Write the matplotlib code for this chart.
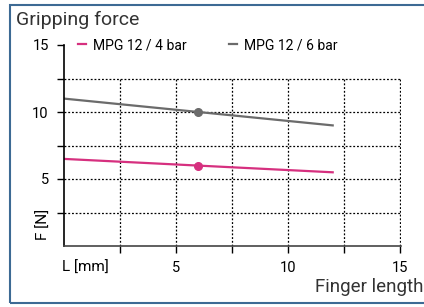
import matplotlib.pyplot as plt
from matplotlib.patches import Rectangle

plt.rcParams['font.family'] = ['Roboto', 'DejaVu Sans']

finger_length = [0, 6, 12]
force_4bar = [6.5, 6.0, 5.5]
force_6bar = [11.0, 10.0, 9.0]
labels = ['MPG 12 / 4 bar', 'MPG 12 / 6 bar']
pink = '#d6307f'
grey = '#6b6b6b'

fig = plt.figure(figsize=(4.24, 3.07), dpi=100)
ax = fig.add_axes([64 / 424, 1 - 246 / 307, 337 / 424, 201 / 307])

# dotted grid, stops below 15 on y
grid_pos = [2.5, 5, 7.5, 10, 12.5]
ax.hlines(grid_pos, 0, 15, colors='black', linestyles=(0, (1.5, 1.5)), linewidth=0.9)
ax.vlines(grid_pos + [15], 0, 12.5, colors='black', linestyles=(0, (1.5, 1.5)), linewidth=0.9)

ax.plot(finger_length, force_4bar, color=pink, lw=1.6, label=labels[0])
ax.plot(finger_length, force_6bar, color=grey, lw=1.6, label=labels[1])
ax.plot([finger_length[1]], [force_4bar[1]], 'o', color=pink, ms=5.5)
ax.plot([finger_length[1]], [force_6bar[1]], 'o', color=grey, ms=5.5)

ax.set_xlim(0, 15.05)
ax.set_ylim(0, 15)
ticks = [0, 2.5, 5, 7.5, 10, 12.5, 15]
tick_labels = ['', '', '5', '', '10', '', '15']
ax.set_xticks(ticks[1:])
ax.set_xticklabels(tick_labels[1:])
ax.set_yticks(ticks[1:])
ax.set_yticklabels(tick_labels[1:])
ax.tick_params(length=5, width=1, labelsize=10.5, color='black', pad=6)
for s in ['top', 'right']:
    ax.spines[s].set_visible(False)
ax.spines['left'].set_color('black')
ax.spines['bottom'].set_color('#444444')
ax.spines['left'].set_linewidth(1.2)
ax.spines['bottom'].set_linewidth(1.2)
ax.patch.set_alpha(0)

fig.legend(loc='center left', bbox_to_anchor=(78 / 424, 1 - 45 / 307), ncol=2,
           frameon=False, fontsize=10, handlelength=0.6, handletextpad=0.5,
           columnspacing=3.0, borderaxespad=0, borderpad=0)

fig.text(16 / 424, 1 - 20 / 307, 'Gripping force', fontsize=14, va='center', ha='left', color='#333333')
fig.text(0.999, 1 - 287 / 307, 'Finger length', fontsize=13.5, va='center', ha='right', color='#333333')
fig.text(62 / 424, 1 - 268 / 307, 'L [mm]', fontsize=11, va='center', ha='left')
fig.text(44 / 424, 1 - 224 / 307, 'F [N]', fontsize=11, va='center', ha='center', rotation=90)

fig.patches.append(Rectangle((10 / 424, 4 / 307), 1.2, 298 / 307, transform=fig.transFigure,
                             fill=False, edgecolor='#3d6a94', lw=1.5, clip_on=False))

fig.savefig('out.png', dpi=100)
